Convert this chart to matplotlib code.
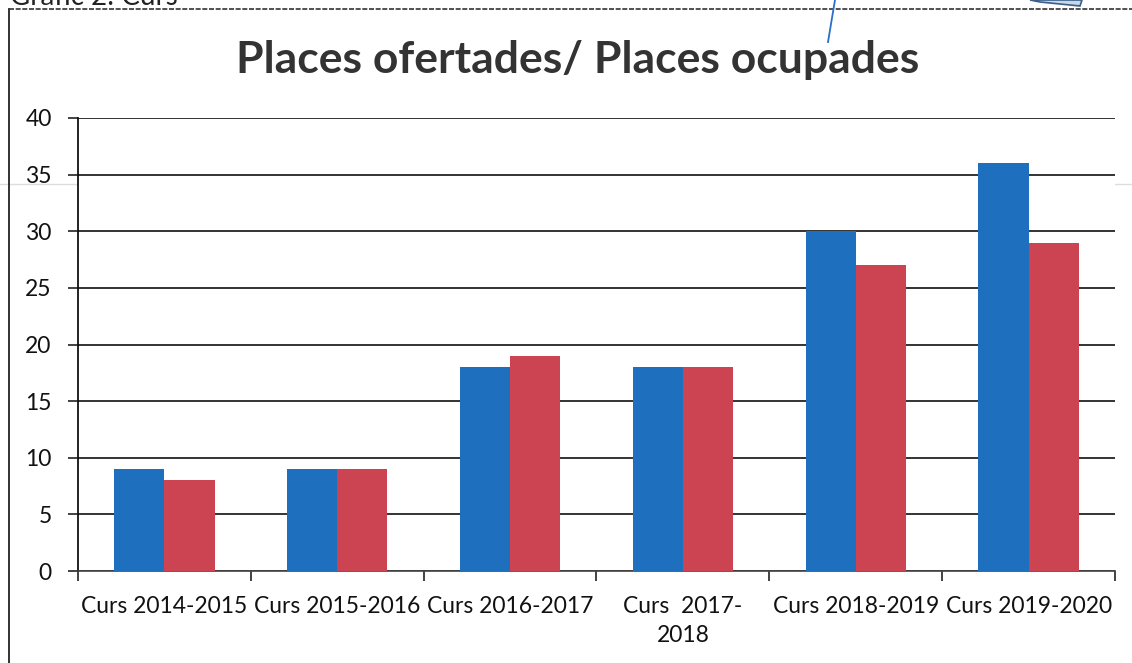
import matplotlib
matplotlib.use("Agg")
import matplotlib.pyplot as plt
import numpy as np
from matplotlib.lines import Line2D

# Data
categories = ["Curs 2014-2015", "Curs 2015-2016", "Curs 2016-2017",
              "Curs  2017-\n2018", "Curs 2018-2019", "Curs 2019-2020"]
places_ofertades = [9, 9, 18, 18, 30, 36]
places_ocupades = [8, 9, 19, 18, 27, 29]
y_ticks = [0, 5, 10, 15, 20, 25, 30, 35, 40]

title = "Places ofertades/ Places ocupades"
caption = "Gràfic 2: Curs"

BLUE = "#1f6fbf"
RED = "#cc4452"
FONT = "Lato"

W, H = 1132, 663
fig = plt.figure(figsize=(W / 100, H / 100), dpi=100)
fig.patch.set_facecolor("white")

def px(x, y):
    return x / W, 1 - y / H

# Outer frame of the figure box
fig.add_artist(Line2D([9 / W, 9 / W], [0, 1 - 9 / H], transform=fig.transFigure,
                      color="#222222", lw=1.3))
fig.add_artist(Line2D([9 / W, 1], [1 - 9 / H, 1 - 9 / H], transform=fig.transFigure,
                      color="#333333", lw=1.2, ls=(0, (3, 1))))
# Caption above the box, running off the top edge
fig.text(10 / W, 1 - 5 / H, caption, fontsize=20, family=FONT,
         color="#222222", va="baseline", ha="left")
# Pointer line at the top
fig.add_artist(Line2D([835 / W, 828 / W], [1.0, 1 - 42 / H], transform=fig.transFigure,
                      color="#2a6fc9", lw=1.3))
fig.add_artist(plt.Polygon([px(1030, 0), px(1082, 0), px(1080, 6), px(1040, 2)],
                           closed=True, transform=fig.transFigure,
                           facecolor="#c9d6e6", edgecolor="#3a5f8a", lw=1.2))
# Faint horizontal scan line
fig.add_artist(Line2D([0, 1], [1 - 184 / H, 1 - 184 / H], transform=fig.transFigure,
                      color="#dddddd", lw=1.0, zorder=0))

left, right, top, bottom = 78, 1115, 118, 571
ax = fig.add_axes([left / W, 1 - bottom / H, (right - left) / W, (bottom - top) / H])

x = np.arange(len(categories))
bw = 0.29
ax.bar(x - bw / 2, places_ofertades, width=bw, color=BLUE, zorder=3, label="Places ofertades")
ax.bar(x + bw / 2, places_ocupades, width=bw, color=RED, zorder=3, label="Places ocupades")

ax.set_xlim(-0.5, len(categories) - 0.5)
ax.set_ylim(0, 40)
ax.set_yticks(y_ticks)
ax.set_yticklabels([str(t) for t in y_ticks], fontsize=16.5, family=FONT, color="#111111")
ax.yaxis.grid(True, color="#111111", lw=1.2, zorder=0)
ax.set_axisbelow(True)

# Category labels centered, tick marks at category boundaries
ax.set_xticks(x)
ax.set_xticklabels(categories, fontsize=16.5, family=FONT, color="#111111", linespacing=1.5)
ax.tick_params(axis="x", which="major", length=0, pad=18)
ax.set_xticks(np.arange(-0.5, len(categories)), minor=True)
ax.tick_params(axis="x", which="minor", length=7, width=1.2, color="#222222", direction="out")
ax.tick_params(axis="y", length=7, width=1.2, color="#222222", pad=12)

for s in ["top", "right"]:
    ax.spines[s].set_visible(False)
ax.spines["left"].set_color("#111111")
ax.spines["left"].set_linewidth(1.3)
ax.spines["bottom"].set_color("#444444")
ax.spines["bottom"].set_linewidth(1.2)

fig.text(px(578, 0)[0], 1 - 60 / H, title, fontsize=32, family=FONT,
         fontweight="bold", color="#333333", ha="center", va="center")

fig.savefig("out.png", dpi=100, facecolor="white")
